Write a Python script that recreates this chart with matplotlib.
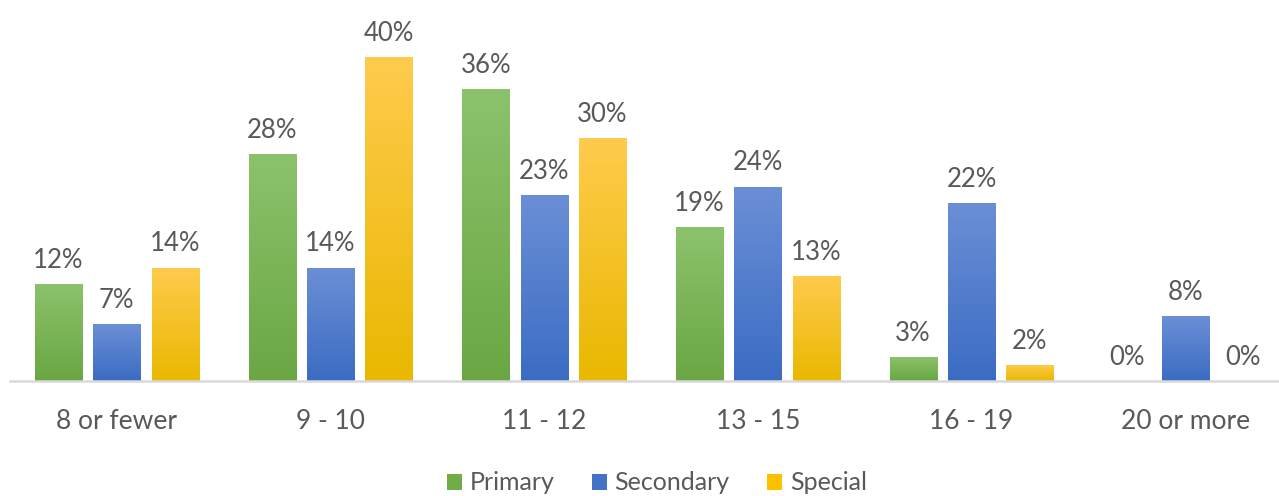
import numpy as np
import matplotlib
matplotlib.use("Agg")
import matplotlib.pyplot as plt
from matplotlib.colors import LinearSegmentedColormap
from matplotlib.patches import Patch

# data
categories = ["8 or fewer", "9 - 10", "11 - 12", "13 - 15", "16 - 19", "20 or more"]
primary = [12, 28, 36, 19, 3, 0]
secondary = [7, 14, 23, 24, 22, 8]
special = [14, 40, 30, 13, 2, 0]
series_names = ["Primary", "Secondary", "Special"]

# gradient colours (top, bottom) and legend colour
grad = [("#8cc26c", "#6aa743"), ("#6b8fd6", "#3b6cc3"), ("#ffcb4d", "#e9b800")]
solid = ["#70ad47", "#4472c4", "#ffc000"]

plt.rcParams["font.family"] = ["Lato", "DejaVu Sans"]
text_color = "#595959"

fig = plt.figure(figsize=(12.79, 4.96), dpi=100)
W, H = 1279, 496
# axes: x from -0.5..5.5 spanning px 10..1292, y 0..45 with 0 at px 381
ax = fig.add_axes([10 / W, (H - 381) / H, 1282 / W, 45 * 8.1 / H])
ax.set_xlim(-0.5, 5.5)
ax.set_ylim(0, 45)

x = np.arange(len(categories))
width = 0.22
pitch = 0.273
grad_img = np.linspace(1, 0, 256).reshape(-1, 1)

for k, vals in enumerate([primary, secondary, special]):
    offs = (k - 1) * pitch
    bars = ax.bar(x + offs, vals, width, color="none", linewidth=0, zorder=2)
    cmap = LinearSegmentedColormap.from_list("g%d" % k, [grad[k][1], grad[k][0]])
    for b, v in zip(bars, vals):
        if v > 0:
            im = ax.imshow(grad_img, cmap=cmap, vmin=0, vmax=1, aspect="auto",
                           extent=(b.get_x(), b.get_x() + b.get_width(), 0, v),
                           zorder=2)
            im.set_clip_path(b)
        ax.annotate(f"{v}%", (b.get_x() + b.get_width() / 2, v),
                    xytext=(0, 8), textcoords="offset points",
                    ha="center", va="bottom", fontsize=18.5, color=text_color)

ax.set_xlim(-0.5, 5.5)
ax.set_ylim(0, 45)

for s in ["top", "right", "left"]:
    ax.spines[s].set_visible(False)
ax.spines["bottom"].set_color("#d9d9d9")
ax.spines["bottom"].set_linewidth(1.8)
ax.set_yticks([])
ax.set_xticks(x)
ax.set_xticklabels(categories, fontsize=19, color=text_color)
ax.tick_params(axis="x", length=0, pad=20)

handles = [Patch(facecolor=c, edgecolor="none") for c in solid]
fig.legend(handles, series_names, loc="center", bbox_to_anchor=(657 / W, 1 - 483 / H),
           ncol=3, frameon=False, fontsize=18, handlelength=0.6, handleheight=0.6,
           handletextpad=0.3, columnspacing=1.5, labelcolor=text_color)

fig.savefig("out.png", dpi=100)
